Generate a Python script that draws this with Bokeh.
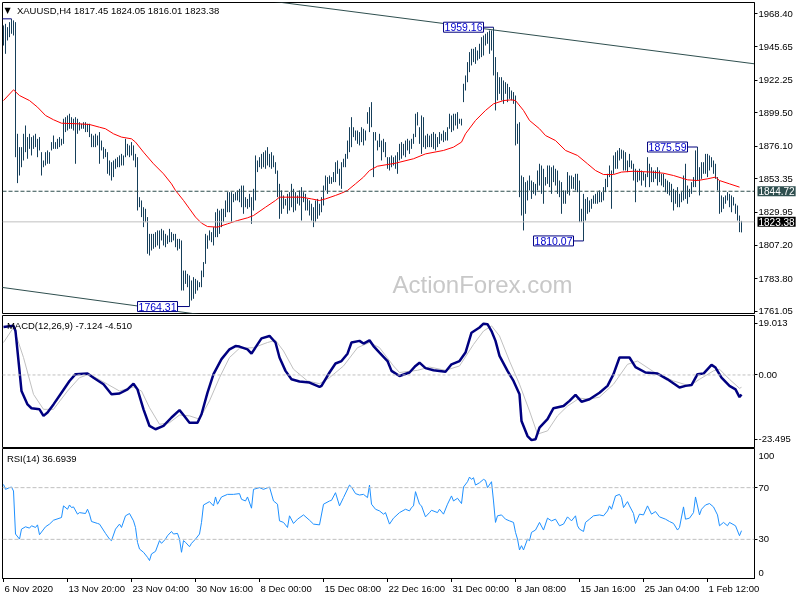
from bokeh.plotting import figure
from bokeh.layouts import column
from bokeh.models import Range1d, FixedTicker, Label, Span, ColumnDataSource, PrintfTickFormatter
from bokeh.core.properties import value
from bokeh.embed import file_html
from bokeh.resources import INLINE

# ---------------- data ----------------
symbol_title = "XAUUSD,H4  1817.45 1824.05 1816.01 1823.38"
macd_title = "MACD(12,26,9) -7.124 -4.510"
rsi_title = "RSI(14) 36.6939"
watermark = "ActionForex.com"

bar_high = [
    1960.4, 1961.5, 1959.2, 1962.7, 1965.0, 1963.9, 1962.7, 1884.8, 1875.5, 1875.5,
    1884.8, 1890.6, 1882.5, 1884.8, 1882.5, 1883.6, 1884.8, 1881.3, 1882.5, 1872.0,
    1866.2, 1872.0, 1873.2, 1872.0, 1879.0, 1883.6, 1879.0, 1881.3, 1882.5, 1881.3,
    1895.3, 1896.4, 1897.6, 1898.8, 1896.4, 1895.3, 1896.4, 1895.3, 1892.9, 1891.8,
    1892.9, 1892.9, 1891.8, 1891.8, 1884.8, 1883.6, 1884.8, 1883.6, 1886.0, 1880.1,
    1875.5, 1874.3, 1872.0, 1866.2, 1865.0, 1866.2, 1867.4, 1868.5, 1869.7, 1870.8,
    1869.7, 1881.3, 1877.8, 1876.7, 1879.0, 1876.7, 1870.8, 1868.5, 1840.6, 1838.3,
    1833.6, 1832.5, 1826.7, 1815.0, 1815.0, 1815.0, 1816.2, 1817.4, 1817.4, 1818.5,
    1817.4, 1815.0, 1813.9, 1818.5, 1816.2, 1815.0, 1815.0, 1811.5, 1811.5, 1810.4,
    1789.4, 1789.4, 1787.1, 1786.0, 1782.5, 1784.8, 1783.6, 1782.5, 1781.3, 1789.4,
    1795.3, 1815.0, 1813.9, 1817.4, 1816.2, 1819.7, 1830.1, 1832.5, 1831.3, 1832.5,
    1832.5, 1838.3, 1844.1, 1844.1, 1844.1, 1842.9, 1844.1, 1845.3, 1846.4, 1848.7,
    1848.7, 1840.6, 1839.4, 1842.9, 1840.6, 1846.4, 1869.7, 1866.2, 1868.5, 1870.8,
    1872.0, 1873.2, 1875.5, 1870.8, 1872.0, 1869.7, 1865.0, 1859.2, 1849.9, 1845.3,
    1841.8, 1839.4, 1842.9, 1844.1, 1849.9, 1846.4, 1844.1, 1841.8, 1845.3, 1847.6,
    1844.1, 1842.9, 1839.4, 1838.3, 1836.0, 1833.6, 1838.3, 1839.4, 1836.0, 1840.6,
    1848.7, 1855.7, 1854.6, 1855.7, 1854.6, 1858.1, 1865.0, 1866.2, 1860.4, 1865.0,
    1867.4, 1870.8, 1880.1, 1889.4, 1896.4, 1889.4, 1887.1, 1887.1, 1886.0, 1889.4,
    1888.3, 1887.1, 1899.9, 1903.4, 1906.9, 1886.0, 1886.0, 1880.1, 1884.8, 1880.1,
    1881.3, 1879.0, 1868.5, 1868.5, 1869.7, 1868.5, 1869.7, 1872.0, 1877.8, 1879.0,
    1877.8, 1880.1, 1881.3, 1880.1, 1881.3, 1884.8, 1898.8, 1899.9, 1889.4, 1897.6,
    1896.4, 1883.6, 1884.8, 1883.6, 1884.8, 1886.0, 1884.8, 1882.5, 1886.0, 1884.8,
    1887.1, 1886.0, 1889.4, 1898.8, 1897.6, 1898.8, 1898.8, 1899.9, 1895.3, 1895.3,
    1919.7, 1925.5, 1934.8, 1941.8, 1944.1, 1944.1, 1945.3, 1942.9, 1947.6, 1952.2,
    1953.4, 1954.6, 1955.7, 1956.9, 1956.9, 1959.16, 1938.3, 1927.8, 1924.3, 1924.3,
    1922.0, 1920.8, 1919.7, 1917.4, 1915.0, 1913.9, 1911.5, 1891.8, 1892.9, 1855.7,
    1854.6, 1851.1, 1852.2, 1855.7, 1852.2, 1851.1, 1849.9, 1859.2, 1863.9, 1862.7,
    1860.4, 1854.6, 1862.7, 1862.7, 1861.5, 1862.7, 1860.4, 1859.2, 1852.2, 1851.1,
    1845.3, 1845.3, 1858.1, 1855.7, 1855.7, 1854.6, 1856.9, 1856.9, 1852.2, 1832.5,
    1842.9, 1839.4, 1840.6, 1838.3, 1839.4, 1841.8, 1842.9, 1844.1, 1845.3, 1844.1,
    1847.6, 1853.4, 1856.9, 1862.7, 1859.2, 1869.7, 1872.0, 1873.2, 1874.9, 1873.8,
    1873.2, 1872.0, 1866.2, 1870.8, 1866.2, 1863.9, 1860.4, 1859.2, 1860.4, 1859.2,
    1858.1, 1856.9, 1868.5, 1863.9, 1861.5, 1859.2, 1859.2, 1861.5, 1859.2, 1856.9,
    1856.9, 1853.4, 1852.2, 1851.1, 1849.9, 1846.4, 1845.3, 1847.6, 1842.9, 1844.1,
    1855.7, 1863.9, 1848.7, 1846.4, 1851.1, 1854.6, 1873.2, 1875.59, 1861.5, 1865.0,
    1865.0, 1870.8, 1870.8, 1869.7, 1868.5, 1866.2, 1863.9, 1854.6, 1852.2, 1841.8,
    1840.6, 1841.8, 1844.1, 1842.9, 1841.8, 1840.6, 1836.0, 1834.8, 1827.8, 1824.05,
]
bar_low = [
    1946.4, 1940.6, 1949.9, 1952.2, 1954.6, 1953.4, 1868.5, 1850.4, 1855.7, 1861.5,
    1866.2, 1872.0, 1867.4, 1874.3, 1869.7, 1874.3, 1875.5, 1868.5, 1873.2, 1855.7,
    1861.5, 1862.7, 1863.9, 1863.9, 1873.2, 1874.3, 1874.3, 1874.3, 1875.5, 1876.7,
    1877.8, 1886.0, 1887.1, 1888.3, 1888.3, 1887.1, 1863.9, 1884.8, 1887.1, 1888.3,
    1888.3, 1886.0, 1886.0, 1882.5, 1875.5, 1875.5, 1875.5, 1876.7, 1863.9, 1873.2,
    1867.4, 1868.5, 1856.9, 1855.7, 1852.2, 1854.6, 1860.4, 1861.5, 1861.5, 1862.7,
    1862.7, 1868.5, 1869.7, 1868.5, 1869.7, 1866.2, 1861.5, 1831.3, 1833.6, 1826.7,
    1819.7, 1823.2, 1801.1, 1799.9, 1803.4, 1804.6, 1805.7, 1806.9, 1804.6, 1810.4,
    1806.9, 1805.7, 1808.0, 1809.2, 1809.2, 1810.4, 1805.7, 1803.4, 1804.6, 1775.5,
    1775.5, 1780.1, 1777.8, 1764.31, 1768.5, 1769.7, 1773.2, 1775.5, 1777.8, 1777.8,
    1784.8, 1794.1, 1804.6, 1810.4, 1809.2, 1806.9, 1812.7, 1812.7, 1815.0, 1819.7,
    1823.2, 1826.7, 1830.1, 1830.1, 1823.2, 1837.1, 1838.3, 1838.3, 1837.1, 1833.6,
    1829.0, 1833.6, 1832.5, 1833.6, 1822.0, 1831.3, 1838.3, 1858.1, 1861.5, 1860.4,
    1861.5, 1860.4, 1862.7, 1861.5, 1860.4, 1861.5, 1856.9, 1840.6, 1825.5, 1829.0,
    1832.5, 1834.8, 1829.0, 1831.3, 1833.6, 1830.1, 1831.3, 1836.0, 1834.8, 1824.3,
    1837.1, 1831.3, 1831.3, 1827.8, 1824.3, 1819.7, 1823.2, 1825.5, 1827.8, 1830.1,
    1834.8, 1845.3, 1842.9, 1849.9, 1849.9, 1851.1, 1851.1, 1856.9, 1848.7, 1846.4,
    1861.5, 1861.5, 1867.4, 1872.0, 1875.5, 1882.5, 1880.1, 1877.8, 1876.7, 1879.0,
    1876.7, 1880.1, 1891.8, 1886.0, 1889.4, 1854.6, 1880.1, 1873.2, 1875.5, 1866.2,
    1872.0, 1868.5, 1860.4, 1859.2, 1861.5, 1862.7, 1860.4, 1856.9, 1866.2, 1867.4,
    1869.7, 1868.5, 1873.2, 1870.8, 1874.3, 1877.8, 1882.5, 1890.6, 1877.8, 1870.8,
    1875.5, 1874.3, 1875.5, 1875.5, 1875.5, 1874.3, 1873.2, 1875.5, 1877.8, 1880.1,
    1879.0, 1880.1, 1880.1, 1888.3, 1886.0, 1887.1, 1890.6, 1888.3, 1891.8, 1890.6,
    1906.9, 1915.0, 1920.8, 1927.8, 1932.5, 1934.8, 1933.6, 1936.0, 1937.1, 1938.3,
    1939.4, 1946.4, 1947.6, 1940.6, 1942.9, 1925.5, 1901.1, 1908.1, 1912.7, 1908.1,
    1905.7, 1912.7, 1906.9, 1909.2, 1908.1, 1905.7, 1876.7, 1877.8, 1840.6, 1827.8,
    1817.4, 1829.0, 1838.3, 1845.3, 1839.4, 1842.9, 1841.8, 1845.3, 1848.7, 1842.9,
    1836.0, 1848.7, 1849.9, 1847.6, 1842.9, 1851.1, 1848.7, 1842.9, 1840.6, 1829.0,
    1836.0, 1836.0, 1842.9, 1841.8, 1846.4, 1846.4, 1845.3, 1844.1, 1823.2, 1823.2,
    1810.07, 1824.3, 1829.0, 1830.1, 1832.5, 1836.0, 1836.0, 1836.0, 1837.1, 1837.1,
    1838.3, 1844.1, 1847.6, 1854.6, 1832.5, 1856.9, 1860.4, 1860.4, 1866.2, 1867.4,
    1859.2, 1859.2, 1858.1, 1861.5, 1860.4, 1852.2, 1837.1, 1851.1, 1852.2, 1848.7,
    1852.2, 1847.6, 1854.6, 1847.6, 1851.1, 1851.1, 1853.4, 1848.7, 1851.1, 1848.7,
    1847.6, 1844.1, 1842.9, 1841.8, 1837.1, 1831.3, 1836.0, 1833.6, 1833.6, 1837.1,
    1838.3, 1839.4, 1836.0, 1840.6, 1842.9, 1847.6, 1847.6, 1852.2, 1841.8, 1853.4,
    1856.9, 1856.9, 1854.6, 1859.2, 1861.5, 1856.9, 1853.4, 1845.3, 1829.0, 1830.1,
    1832.5, 1836.0, 1838.3, 1833.6, 1830.1, 1834.8, 1829.0, 1824.3, 1816.2, 1816.01,
]

ma_bar = [0, 5, 8, 13, 17, 21, 25, 29, 37, 43, 48, 51, 55, 59, 64, 66, 70, 75, 80, 84,
          86, 90, 93, 96, 99, 102, 107, 112, 117, 122, 125, 131, 136, 138, 149, 154, 158, 161, 166, 169,
          172, 176, 180, 183, 187, 196, 205, 211, 220, 225, 229, 231, 236, 241, 245, 250, 254, 256, 260, 263,
          268, 271, 276, 281, 287, 292, 296, 300, 305, 309, 315, 324, 330, 335, 342, 347, 352, 356, 358, 363, 368]
ma_value = [1908.0, 1915.5, 1911.5, 1908.0, 1903.4, 1897.6, 1894.6, 1892.2, 1891.8, 1891.3,
            1889.4, 1888.3, 1884.8, 1882.5, 1881.3, 1879.0, 1872.0, 1863.9, 1856.9, 1849.9,
            1845.3, 1838.3, 1832.5, 1826.7, 1822.5, 1820.1, 1819.7, 1822.0, 1824.3, 1826.2,
            1827.8, 1833.6, 1838.3, 1840.6, 1840.6, 1839.4, 1838.3, 1839.4, 1841.8, 1843.4,
            1845.3, 1849.9, 1854.6, 1859.2, 1862.2, 1864.3, 1867.4, 1870.8, 1873.2, 1875.5,
            1879.0, 1884.8, 1894.1, 1901.1, 1905.7, 1908.0, 1908.5, 1908.0, 1901.1, 1894.1,
            1888.3, 1883.6, 1880.1, 1873.2, 1869.7, 1863.9, 1859.2, 1856.4, 1856.4, 1858.1,
            1858.7, 1858.1, 1857.3, 1855.7, 1852.7, 1852.2, 1853.4, 1854.6, 1852.2, 1849.9, 1847.6]

macd_bar = [0, 5, 6, 8, 9, 12, 14, 18, 20, 22, 25, 29, 33, 36, 42, 45, 50, 54, 58, 62,
            65, 67, 70, 73, 76, 80, 84, 88, 90, 93, 97, 99, 102, 105, 109, 113, 116, 118, 122, 124,
            127, 129, 133, 136, 138, 141, 144, 148, 153, 158, 159, 163, 166, 169, 172, 174, 178, 180, 183, 185,
            188, 192, 194, 198, 203, 206, 208, 211, 215, 221, 224, 228, 231, 234, 238, 240, 242, 244, 246, 248,
            252, 255, 258, 259, 262, 264, 266, 268, 272, 275, 280, 283, 286, 289, 293, 298, 302, 305, 308, 313,
            316, 321, 327, 332, 338, 341, 344, 347, 350, 354, 356, 359, 363, 366, 368, 369]
macd_value = [17.6, 18.0, 16.1, 1.5, -5.9, -10.8, -12.2, -12.6, -15.0, -13.8,
              -10.8, -6.5, -2.2, 0.3, 0.5, -1.0, -3.4, -7.1, -6.8, -5.3,
              -3.2, -5.3, -12.6, -18.7, -19.9, -18.7, -15.6, -12.9, -14.7, -17.5,
              -17.5, -14.4, -6.5, 0.3, 5.8, 9.4, 10.6, 10.4, 9.4, 7.8,
              11.2, 13.4, 14.3, 11.9, 6.4, 1.5, -1.6, -2.4, -2.8, -4.4,
              -4.0, 0.9, 4.2, 5.1, 7.8, 11.9, 12.5, 11.5, 12.7, 10.6,
              8.2, 5.1, 1.5, -0.4, 0.9, 3.3, 4.5, 2.5, 1.7, 1.2,
              3.9, 5.1, 8.2, 15.5, 17.4, 18.8, 18.6, 16.1, 12.5, 7.0,
              1.5, -2.2, -7.1, -16.9, -22.4, -23.9, -23.6, -19.3, -16.2, -12.2,
              -11.4, -9.5, -7.3, -9.8, -8.9, -6.5, -4.0, 0.3, 6.4, 6.4,
              2.9, 0.9, 0.5, -1.6, -4.6, -4.0, -3.7, 0.3, 0.5, 3.7,
              2.7, -1.0, -4.0, -5.3, -8.1, -7.124]

signal_bar = [0, 5, 10, 15, 20, 25, 32, 38, 43, 52, 58, 65, 69, 73, 78, 83, 88, 93, 98, 103,
              108, 113, 118, 125, 132, 136, 140, 145, 152, 158, 163, 170, 177, 183, 188, 195, 198, 207, 213, 221,
              228, 235, 240, 244, 248, 253, 258, 263, 267, 272, 277, 282, 288, 293, 298, 305, 312, 317, 325, 335,
              343, 348, 355, 358, 363, 368, 369]
signal_value = [11.9, 17.4, 6.4, -7.1, -12.6, -12.6, -5.9, -1.0, 0.3, -3.4,
                -5.9, -4.4, -5.9, -12.0, -18.1, -17.5, -14.7, -15.0, -16.2, -9.5,
                -1.0, 6.4, 9.8, 10.0, 11.9, 12.7, 8.8, 2.1, -2.2, -3.2,
                -1.0, 3.3, 10.0, 11.9, 10.0, 3.3, 0.9, 1.7, 2.9, 1.7,
                3.3, 11.2, 16.1, 18.0, 14.3, 5.1, -3.4, -13.2, -21.7, -20.5,
                -15.0, -11.4, -8.5, -8.9, -8.1, -3.4, 3.9, 5.1, 1.2, -2.2,
                -4.0, -1.6, 1.5, 2.1, -1.6, -4.9, -4.51]

rsi_bar = [0, 1, 3, 4, 5, 6, 8, 9, 11, 13, 14, 16, 17, 18, 21, 23, 25, 29, 30, 32,
           33, 34, 35, 37, 38, 41, 42, 43, 44, 47, 48, 51, 53, 54, 56, 58, 59, 61, 63, 65,
           66, 67, 68, 70, 72, 73, 74, 76, 78, 79, 81, 82, 84, 85, 87, 88, 89, 90, 91, 93,
           94, 96, 98, 99, 100, 103, 105, 106, 107, 109, 112, 115, 118, 119, 121, 122, 124, 125, 128, 130,
           133, 135, 137, 138, 140, 142, 143, 145, 147, 150, 153, 155, 158, 160, 163, 164, 166, 168, 170, 173,
           174, 176, 178, 180, 182, 183, 184, 186, 188, 190, 191, 193, 195, 198, 201, 203, 204, 205, 206, 208,
           209, 211, 213, 214, 217, 218, 220, 222, 224, 225, 227, 229, 230, 232, 233, 234, 235, 236, 238, 240,
           241, 242, 244, 245, 246, 247, 249, 251, 253, 255, 256, 257, 258, 259, 260, 262, 263, 264, 266, 268,
           270, 272, 274, 276, 278, 280, 282, 284, 286, 287, 288, 290, 291, 293, 295, 298, 300, 302, 303, 304,
           306, 308, 309, 310, 312, 313, 315, 316, 318, 320, 322, 324, 326, 328, 331, 333, 335, 337, 338, 340,
           341, 343, 345, 346, 348, 349, 351, 353, 355, 357, 358, 360, 362, 363, 366, 368, 369]
rsi_value = [72.5, 68.7, 70.0, 70.5, 67.4, 34.1, 30.2, 37.9, 39.7, 38.7, 40.5, 39.2, 41.2, 33.6, 39.7, 41.8, 44.8, 46.9, 55.9, 53.3,
             56.6, 54.6, 55.1, 49.5, 50.7, 50.0, 53.3, 49.5, 43.8, 42.3, 41.8, 34.6, 30.2, 29.0, 37.9, 41.8, 39.2, 48.2, 50.0, 44.3,
             39.2, 27.7, 22.5, 20.0, 16.1, 13.6, 18.7, 20.7, 29.0, 26.9, 30.2, 32.8, 36.1, 34.1, 34.6, 30.2, 20.0, 29.0, 27.7, 24.3,
             26.9, 30.2, 34.1, 43.1, 56.6, 59.2, 55.9, 62.8, 57.2, 62.8, 64.8, 64.8, 65.4, 61.0, 59.7, 62.8, 54.1, 68.7, 70.0, 68.7,
             70.5, 59.7, 57.2, 44.3, 43.1, 39.2, 48.2, 42.3, 45.6, 48.9, 44.8, 41.8, 41.2, 57.2, 59.7, 60.2, 66.1, 55.9, 62.3, 72.0,
             70.5, 65.4, 64.3, 64.8, 62.3, 72.0, 57.2, 53.3, 52.0, 49.5, 50.7, 41.8, 46.4, 50.7, 53.3, 52.0, 54.6, 55.9, 66.9, 57.2,
             55.9, 47.4, 50.7, 52.5, 50.7, 53.3, 49.5, 57.2, 63.6, 59.7, 61.8, 57.7, 70.5, 74.6, 78.2, 76.4, 77.7, 72.0, 73.8, 76.4,
             75.6, 70.0, 74.6, 59.7, 43.1, 48.2, 48.9, 45.6, 44.3, 43.1, 35.4, 30.2, 21.8, 25.1, 21.8, 30.2, 29.0, 35.4, 37.2, 43.1,
             37.2, 46.4, 44.3, 45.6, 40.5, 41.8, 47.4, 44.3, 48.2, 40.5, 37.9, 36.1, 43.1, 45.6, 48.2, 48.9, 48.2, 52.0, 55.9, 53.3,
             63.6, 64.8, 62.3, 54.6, 59.2, 55.9, 50.0, 42.3, 49.5, 48.9, 55.9, 49.5, 51.5, 47.4, 45.6, 43.8, 42.3, 37.2, 39.2, 55.1,
             45.6, 46.4, 50.7, 62.8, 48.9, 53.3, 56.6, 57.7, 55.1, 48.9, 40.5, 43.1, 40.5, 43.1, 40.5, 32.8, 36.69]

price_ticks = [1968.40, 1945.65, 1922.25, 1899.50, 1876.10, 1853.35, 1829.95, 1807.20, 1783.80, 1761.05]
macd_ticks = [19.013, 0.0, -23.495]
macd_tick_labels = ["19.013", "0.00", "-23.495"]
rsi_levels = [70, 30]
rsi_extra_labels = ["100", "0"]

date_tick_bars = [0, 32, 64, 96, 128, 160, 192, 224, 256, 288, 320, 352]
date_tick_labels = ["6 Nov 2020", "13 Nov 20:00", "23 Nov 04:00", "30 Nov 16:00", "8 Dec 00:00",
                    "15 Dec 08:00", "22 Dec 16:00", "31 Dec 00:00", "8 Jan 08:00", "15 Jan 16:00",
                    "25 Jan 04:00", "1 Feb 12:00"]

upper_trend_bar = [0, 380]
upper_trend_price = [2001.6, 1932.8]
lower_trend_bar = [-2, 100]
lower_trend_price = [1777.9, 1758.4]

support_level = 1844.72
last_price = 1823.38

ann_text = ["1959.16", "1764.31", "1810.07", "1875.59"]
ann_bar = [245, 93, 290, 347]
ann_price = [1959.16, 1764.31, 1810.07, 1875.59]
ann_box_bar = [240, 87, 285, 342]
lead_bar = [-1, 4]
lead_price = [1965.0, 1965.0]

# ---------------- style ----------------
FONT = "Liberation Sans"
FS = "9.5px"
BAR = "#163f5a"
SLATE = "#2f4f4f"
NAVY = "#000080"
SILVER = "#c0c0c0"
X0 = -0.5             # left edge of every frame, in bars (2 px per bar)
AXIS_X = 377.0        # just right of the frames, in bars

n = len(bar_high)
x_range = Range1d(X0, X0 + 376)
common = dict(frame_width=752, x_range=x_range, toolbar_location=None, output_backend="svg",
              y_axis_location="right", min_border_left=1, min_border_right=45)


def style(p):
    p.outline_line_color = "black"
    p.outline_line_width = 1
    p.grid.visible = False
    p.background_fill_color = "white"
    p.border_fill_color = "white"
    for ax in p.yaxis:
        ax.axis_line_color = "black"
        ax.major_tick_out = 3
        ax.major_tick_in = 0
        ax.minor_tick_line_color = None
        ax.major_label_text_font = FONT
        ax.major_label_text_font_size = FS
        ax.major_label_text_color = "black"
        ax.major_label_standoff = 1


def text_label(x, y, text, **kw):
    opts = dict(text_font=FONT, text_font_size=FS, text_color="black", text_baseline="middle")
    opts.update(kw)
    return Label(x=x, y=y, text=text, **opts)


# ---- main price panel ----
main = figure(frame_height=311, y_range=Range1d(1759.45, 1976.4), x_axis_location=None,
              min_border_top=1, min_border_bottom=2, **common)
style(main)
main.yaxis.ticker = FixedTicker(ticks=price_ticks)
main.yaxis.formatter = PrintfTickFormatter(format="%.2f")

main.add_layout(text_label(194.5, 1779.7, watermark, text_font_size="24px",
                           text_color="#c8c8c8", text_baseline="middle"))
main.add_layout(Span(location=support_level, dimension="width", line_color=SLATE,
                     line_dash="4 2", line_width=1))
main.add_layout(Span(location=last_price, dimension="width", line_color=SILVER, line_width=1))
main.line(upper_trend_bar, upper_trend_price, line_color=SLATE, line_width=1)
main.line(lower_trend_bar, lower_trend_price, line_color=SLATE, line_width=1)

src = ColumnDataSource(dict(i=list(range(n)), high=bar_high, low=bar_low))
main.segment(x0="i", y0="low", x1="i", y1="high", source=src, line_color=BAR, line_width=1)
main.line(ma_bar, ma_value, line_color="red", line_width=1)

main.segment(x0=ann_box_bar, y0=ann_price, x1=ann_bar, y1=ann_price, line_color=NAVY, line_width=1)
main.line(lead_bar, lead_price, line_color=NAVY, line_width=1)
for t, b, pr in zip(ann_text, ann_box_bar, ann_price):
    main.add_layout(text_label(b, pr, t, text_align="right", text_font_size="10.5px",
                               text_color="#0000cd", background_fill_color="white",
                               border_line_color=NAVY, padding=1))

main.add_layout(text_label(2.0, 1970.5, "\u25bc", text_align="center",
                           text_font="DejaVu Sans", text_font_size="8px"))
main.add_layout(text_label(6.7, 1970.5, symbol_title))
main.add_layout(text_label(AXIS_X, support_level, "%.2f" % support_level, text_color="white",
                           text_font_size="10px", background_fill_color=SLATE, padding=1), "right")
main.add_layout(text_label(AXIS_X, last_price, "%.2f" % last_price, text_color="white",
                           text_font_size="10px", background_fill_color="black", padding=1), "right")

# ---- MACD panel ----
macd = figure(frame_height=132, y_range=Range1d(-26.6, 21.8), x_axis_location=None,
              min_border_top=0, min_border_bottom=1, **common)
style(macd)
macd.yaxis.ticker = FixedTicker(ticks=macd_ticks)
macd.yaxis.major_label_overrides = {v: s for v, s in zip(macd_ticks, macd_tick_labels)}
macd.add_layout(Span(location=0, dimension="width", line_color=SILVER, line_dash="3 2", line_width=1))
macd.line(signal_bar, signal_value, line_color=SILVER, line_width=1)
macd.line(macd_bar, macd_value, line_color=NAVY, line_width=2.5)
macd.add_layout(text_label(1.7, 18.1, macd_title))

# ---- RSI panel ----
rsi = figure(frame_height=130, y_range=Range1d(-0.3, 100.3),
             min_border_top=0, min_border_bottom=4, **common)
style(rsi)
rsi.yaxis.ticker = FixedTicker(ticks=rsi_levels)
for lv in rsi_levels:
    rsi.add_layout(Span(location=lv, dimension="width", line_color=SILVER, line_dash="4 2", line_width=1))
rsi.line(rsi_bar, rsi_value, line_color="#1e90ff", line_width=1)
rsi.add_layout(text_label(1.7, 92.8, rsi_title))
rsi.add_layout(text_label(AXIS_X + 0.5, 94.6, rsi_extra_labels[0]), "right")
rsi.add_layout(text_label(AXIS_X + 0.5, 3.6, rsi_extra_labels[1]), "right")
xa = rsi.xaxis[0]
xa.ticker = FixedTicker(ticks=date_tick_bars)
xa.major_label_overrides = {b: "" for b in date_tick_bars}
xa.major_label_text_font_size = "1px"
xa.major_label_standoff = 0
xa.axis_line_color = "black"
xa.major_tick_out = 4
xa.major_tick_in = 0
xa.minor_tick_line_color = None

# ---- date label strip (left-aligned labels at each tick) ----
strip = figure(frame_width=797, frame_height=16, x_range=Range1d(X0, X0 + 797 / 2),
               y_range=Range1d(-16, 0), toolbar_location=None, output_backend="svg",
               x_axis_location=None, y_axis_location=None, min_border_left=1, min_border_right=0,
               min_border_top=0, min_border_bottom=0)
strip.outline_line_color = None
strip.grid.visible = False
strip.text(x=date_tick_bars, y=[-6] * len(date_tick_bars), text=date_tick_labels,
           text_align="left", text_baseline="middle", text_font=value(FONT),
           text_font_size=value(FS), text_color="black", x_offset=1)

layout = column(main, macd, rsi, strip, spacing=0,
                styles={"position": "fixed", "left": "1px", "top": "1px"})
open("out.html", "w").write(file_html(layout, INLINE))
